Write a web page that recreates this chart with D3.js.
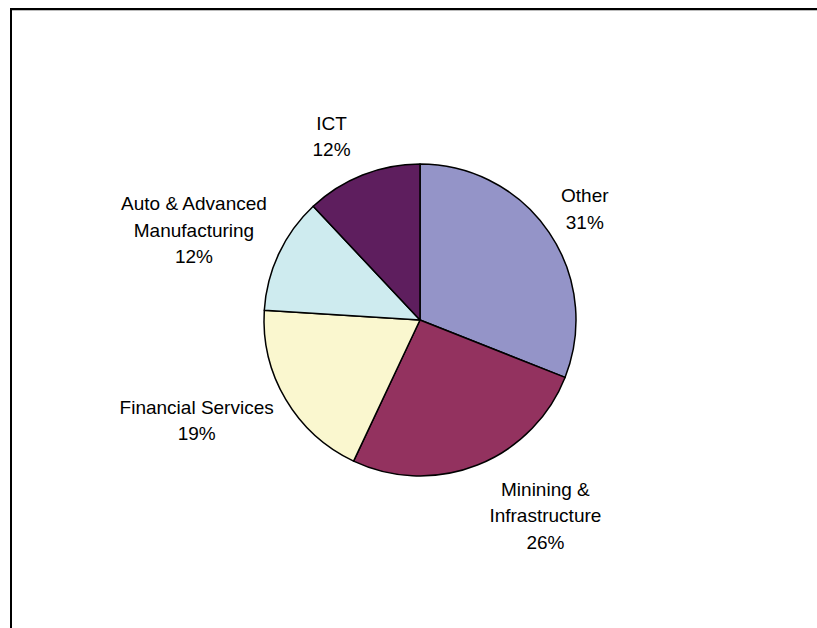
<!DOCTYPE html>
<html>
<head>
<meta charset="utf-8">
<script src="https://cdn.jsdelivr.net/npm/d3@7"></script>
<style>
  body { margin: 0; background: #fff; }
  text { font-family: "Liberation Sans", Arial, sans-serif; font-size: 19px; fill: #000; }
</style>
</head>
<body>
<svg id="chart"></svg>
<script>
var width = 817;
var height = 628;

// data, clockwise from 12 o'clock
var sectors = ['Other', 'Minining &\nInfrastructure', 'Financial Services', 'Auto & Advanced\nManufacturing', 'ICT'];
var shares = [31, 26, 19, 12, 12];
var colors = ['#9494c8', '#93325f', '#faf7cf', '#ceebef', '#5e1e5e'];

var cx = 420, cy = 320, radius = 156;
var lineH = 26.5;

var svg = d3.select('#chart')
    .attr('width', width)
    .attr('height', height);

svg.append('rect')
    .attr('width', width)
    .attr('height', height)
    .attr('fill', '#fff');

// chart frame (runs off the right and bottom edges)
svg.append('line')
    .attr('x1', 11).attr('y1', 10.5).attr('x2', width).attr('y2', 10.5)
    .attr('stroke', '#bbb').attr('stroke-width', 1);
svg.append('path')
    .attr('d', 'M11,' + height + 'V9H' + width)
    .attr('fill', 'none')
    .attr('stroke', '#000')
    .attr('stroke-width', 2);

var data = sectors.map(function(d, i) {
    return {name: d, value: shares[i], color: colors[i]};
});

var pie = d3.pie()
    .sort(null)
    .value(function(d) { return d.value; });

var arc = d3.arc()
    .innerRadius(0)
    .outerRadius(radius);

var arcs = pie(data);

var g = svg.append('g')
    .attr('transform', 'translate(' + cx + ',' + cy + ')');

g.selectAll('path')
    .data(arcs)
    .enter()
    .append('path')
    .attr('d', arc)
    .attr('fill', function(d) { return d.data.color; })
    .attr('stroke', '#000')
    .attr('stroke-width', 1.5)
    .attr('stroke-linejoin', 'round');

// labels outside the end of each slice
var labels = g.selectAll('text')
    .data(arcs)
    .enter()
    .append('text')
    .attr('text-anchor', 'middle');

labels.each(function(d) {
    var lines = d.data.name.split('\n').concat([d.data.value + '%']);
    var t = d3.select(this);
    lines.forEach(function(l) {
        t.append('tspan').text(l);
    });
    var w = 0;
    t.selectAll('tspan').each(function() {
        w = Math.max(w, this.getComputedTextLength());
    });
    var h = lines.length * lineH;
    var mid = (d.startAngle + d.endAngle) / 2;
    var s = Math.sin(mid), c = Math.cos(mid);
    var px = radius * s, py = -radius * c;
    var lx = px + Math.sign(s) * (12 + w / 2);
    var ly = py - c * (15 + h / 2);
    t.selectAll('tspan')
        .attr('x', lx)
        .attr('y', function(_, i) { return ly + (i - (lines.length - 1) / 2) * lineH; })
        .attr('dominant-baseline', 'central');
});
</script>
</body>
</html>
